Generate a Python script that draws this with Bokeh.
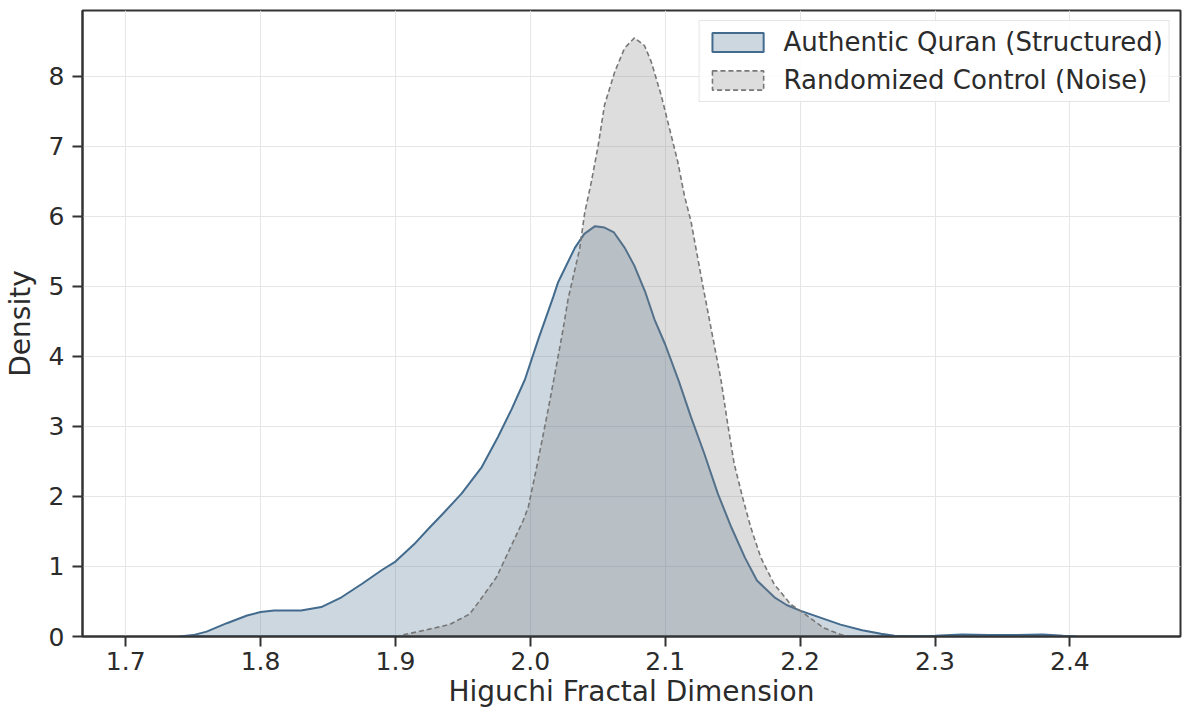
from bokeh.plotting import figure
from bokeh.models import Range1d, FixedTicker, Legend, LegendItem, PrintfTickFormatter
from bokeh.embed import file_html
from bokeh.resources import INLINE

# Higuchi Fractal Dimension grid and KDE densities
authentic_x = [1.740, 1.750, 1.760, 1.775, 1.790, 1.800, 1.810, 1.830, 1.845, 1.860,
               1.875, 1.890, 1.900, 1.915, 1.925, 1.935, 1.949, 1.964, 1.976, 1.986,
               1.996, 2.006, 2.017, 2.0206, 2.033, 2.040, 2.048, 2.055, 2.062, 2.070,
               2.077, 2.085, 2.092, 2.100, 2.110, 2.119, 2.129, 2.139, 2.149, 2.159,
               2.168, 2.181, 2.190, 2.200, 2.215, 2.230, 2.246, 2.260, 2.270, 2.285,
               2.300, 2.320, 2.340, 2.360, 2.380, 2.395, 2.405]
authentic_y = [0.00, 0.02, 0.07, 0.19, 0.30, 0.35, 0.37, 0.37, 0.42, 0.56,
               0.75, 0.95, 1.07, 1.34, 1.55, 1.75, 2.04, 2.42, 2.85, 3.24,
               3.67, 4.25, 4.85, 5.06, 5.55, 5.75, 5.86, 5.84, 5.77, 5.55,
               5.30, 4.93, 4.53, 4.17, 3.65, 3.14, 2.61, 2.04, 1.56, 1.13,
               0.80, 0.56, 0.45, 0.37, 0.27, 0.17, 0.09, 0.04, 0.01, 0.005,
               0.01, 0.03, 0.02, 0.02, 0.03, 0.01, 0.00]

random_x = [1.900, 1.917, 1.940, 1.955, 1.962, 1.975, 1.984, 1.9948, 1.9985, 2.0058,
            2.0132, 2.0206, 2.0243, 2.028, 2.0366, 2.0403, 2.0452, 2.0502, 2.055, 2.0625,
            2.0698, 2.0772, 2.0846, 2.0896, 2.097, 2.1044, 2.1093, 2.1142, 2.1192, 2.1228,
            2.128, 2.134, 2.1413, 2.1462, 2.1511, 2.1573, 2.1634, 2.1708, 2.1807, 2.193,
            2.200, 2.2177, 2.230, 2.235]
random_y = [0.00, 0.07, 0.17, 0.32, 0.50, 0.85, 1.22, 1.66, 1.85, 2.52,
            3.24, 4.00, 4.39, 4.82, 5.54, 6.05, 6.49, 7.00, 7.59, 8.06,
            8.40, 8.55, 8.44, 8.21, 7.73, 7.16, 6.78, 6.30, 5.92, 5.54,
            5.00, 4.40, 3.67, 3.05, 2.47, 1.99, 1.56, 1.13, 0.75, 0.46,
            0.37, 0.12, 0.03, 0.00]

x_ticks = [1.7, 1.8, 1.9, 2.0, 2.1, 2.2, 2.3, 2.4]
y_ticks = [0, 1, 2, 3, 4, 5, 6, 7, 8]
labels = ["Authentic Quran (Structured)", "Randomized Control (Noise)"]

FONT = "DejaVu Sans"
TXT = "#2b2b2b"
SPINE = "#333333"

p = figure(width=1184, height=715, output_backend="svg", toolbar_location=None,
           x_range=Range1d(1.668, 2.482), y_range=Range1d(0, 8.94),
           min_border_left=79, min_border_right=4, min_border_top=10,
           min_border_bottom=79)
p.background_fill_color = "white"
p.border_fill_color = "white"
p.outline_line_color = SPINE
p.outline_line_width = 2

r_auth = p.patch(authentic_x, authentic_y, fill_color="#436b8e", fill_alpha=0.27,
                 line_color="#436b8e", line_width=2)
r_rand = p.patch(random_x, random_y, fill_color="#808080", fill_alpha=0.27,
                 line_color="#777777", line_width=1.6, line_dash="5 3")

legend = Legend(items=[LegendItem(label=labels[0], renderers=[r_auth]),
                       LegendItem(label=labels[1], renderers=[r_rand])],
                location="top_right")
legend.label_text_font = FONT
legend.label_text_font_size = "26px"
legend.label_text_color = TXT
legend.glyph_width = 64
legend.glyph_height = 24
legend.label_standoff = 14
legend.spacing = 8
legend.padding = 6
legend.margin = 10
legend.border_line_color = "#cccccc"
legend.border_line_width = 1.2
legend.background_fill_alpha = 0.85
p.add_layout(legend, "center")

for ax in (p.xaxis[0], p.yaxis[0]):
    ax.axis_line_color = SPINE
    ax.axis_line_width = 2
    ax.major_tick_line_color = SPINE
    ax.major_tick_line_width = 2
    ax.major_tick_out = 10
    ax.major_tick_in = 0
    ax.minor_tick_line_color = None
    ax.major_label_text_font = FONT
    ax.major_label_text_font_size = "25px"
    ax.major_label_text_color = TXT
    ax.axis_label_text_font = FONT
    ax.axis_label_text_font_size = "28px"
    ax.axis_label_text_font_style = "normal"
    ax.axis_label_text_color = TXT

p.xaxis[0].ticker = FixedTicker(ticks=x_ticks)
p.xaxis[0].formatter = PrintfTickFormatter(format="%.1f")
p.yaxis[0].ticker = FixedTicker(ticks=y_ticks)
p.xaxis[0].axis_label = "Higuchi Fractal Dimension"
p.yaxis[0].axis_label = "Density"
p.xaxis[0].major_label_standoff = 5
p.xaxis[0].axis_label_standoff = 2
p.yaxis[0].major_label_standoff = 8
p.yaxis[0].axis_label_standoff = 9

p.xgrid.ticker = FixedTicker(ticks=x_ticks)
p.ygrid.ticker = FixedTicker(ticks=y_ticks)
p.grid.grid_line_color = "#e6e6e6"
p.grid.grid_line_width = 1

open("out.html", "w").write(file_html(p, INLINE))
